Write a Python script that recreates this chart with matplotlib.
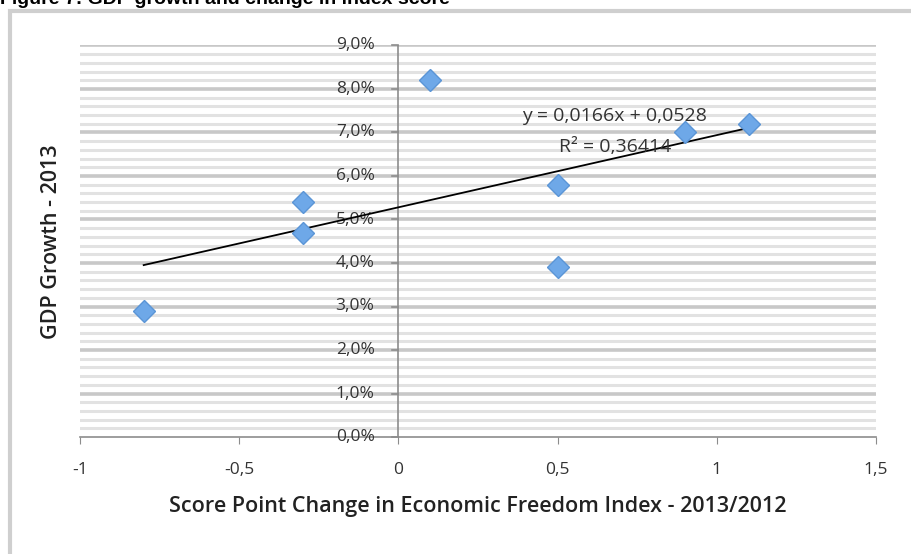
import numpy as np
import matplotlib
matplotlib.use("Agg")
import matplotlib.pyplot as plt
from matplotlib.patches import Rectangle
from matplotlib.ticker import FuncFormatter

# score point change vs GDP growth (in %)
score_change = [-0.8, -0.3, -0.3, 0.1, 0.5, 0.5, 0.9, 1.1]
gdp_growth = [2.9, 5.4, 4.7, 8.2, 5.8, 3.9, 7.0, 7.2]
slope = 0.0166
intercept = 0.0528
eq_text = "y = 0,0166x + 0,0528"
r2_text = "R² = 0,36414"
x_ticks = [-1, -0.5, 0, 0.5, 1, 1.5]

plt.rcParams['font.family'] = ['Open Sans', 'DejaVu Sans']

fig = plt.figure(figsize=(9.12, 5.54), dpi=100)
ax = fig.add_axes([80 / 912, 1 - 437 / 554, 796 / 912, 391.5 / 554])

# outer frame (chart box) and clipped title
fig.patches.append(Rectangle((10 / 912, -0.1), 1.2, 1 - 11 / 554 + 0.1,
                             transform=fig.transFigure, fill=False,
                             edgecolor='#cfcfcf', lw=3, clip_on=False))
fig.text(0.0, 1 - 4 / 554, "Figure 7: GDP growth and change in index score",
         family=['Liberation Sans'], weight='bold', fontsize=14, va='baseline', ha='left')

# gridlines
for v in np.arange(0.2, 9.01, 0.2):
    major = abs(v - round(v)) < 1e-6
    ax.axhline(v, color='#c8c8c8' if major else '#e2e2e2', lw=2.6 if major else 2.2, zorder=0)

ax.set_xlim(-1, 1.5)
ax.set_ylim(0, 9)
for s in ['top', 'right', 'left']:
    ax.spines[s].set_visible(False)
ax.spines['bottom'].set_color('#8c8c8c')
ax.spines['bottom'].set_linewidth(1.2)
ax.axvline(0, color='#8c8c8c', lw=1.2, zorder=1)

ax.set_xticks(x_ticks)
ax.xaxis.set_major_formatter(FuncFormatter(lambda v, p: ('%g' % v).replace('.', ',')))
ax.tick_params(axis='x', length=5, color='#8c8c8c', labelsize=12.5, labelcolor='#333333', pad=13)

# y ticks drawn at x = 0
ax.set_yticks([])
for v in range(0, 10):
    ax.plot([-0.02, 0], [v, v], color='#8c8c8c', lw=1.2, clip_on=False)
    ax.text(-0.075, v, ('%.1f%%' % v).replace('.', ','), ha='right', va='center',
            fontsize=12.5, color='#333333')

# trend line
xs = np.array([min(score_change), max(score_change)])
ax.plot(xs, (slope * xs + intercept) * 100, color='black', lw=1.3, zorder=3)

ax.plot(score_change, gdp_growth, 'D', ms=11, color='#6ea8e8', mec='#5b95d6', mew=1, zorder=4)

ax.text(0.68, 7.38, eq_text, ha='center', va='center', fontsize=14, color='#333333', zorder=5)
ax.text(0.68, 6.66, r2_text, ha='center', va='center', fontsize=14, color='#333333', zorder=5)

ax.set_xlabel("Score Point Change in Economic Freedom Index - 2013/2012", fontsize=15.5,
              weight='semibold', color='#222222', labelpad=13)
ax.set_ylabel("GDP Growth - 2013", fontsize=15.5, weight='semibold', color='#222222', labelpad=0)
ax.yaxis.set_label_coords(-0.022, 0.5)

fig.savefig("out.png", dpi=100)
